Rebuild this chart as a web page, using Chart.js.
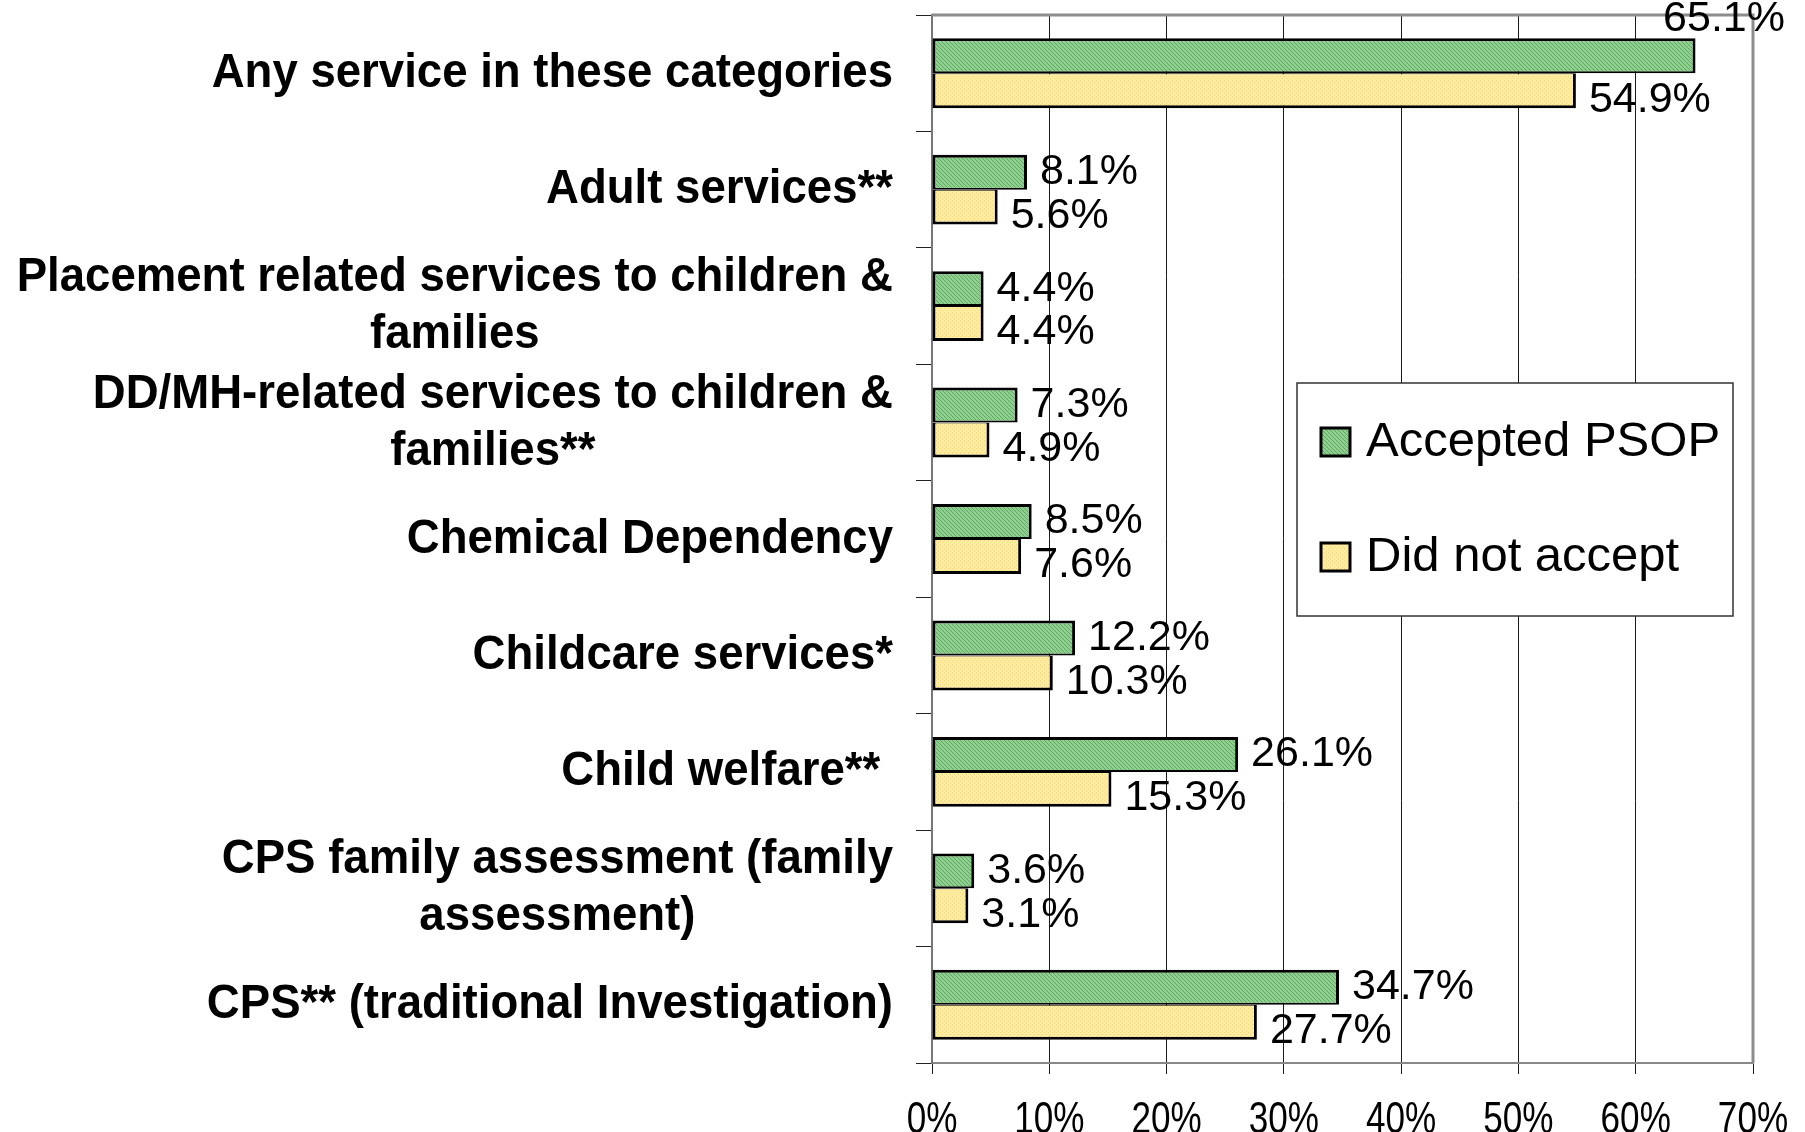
<!DOCTYPE html>
<html>
<head>
<meta charset="utf-8">
<title>Services received by PSOP acceptance</title>
<script src="https://cdn.jsdelivr.net/npm/chart.js@4.4.1/dist/chart.umd.min.js"></script>
<style>
  html, body { margin: 0; padding: 0; background: #fff; }
  #chart { display: block; }
</style>
</head>
<body>
<canvas id="chart" width="1805" height="1132"></canvas>
<script>
// Categories, top to bottom
const categories = [
    'Any service in these categories',
    'Adult services**',
    ['Placement related services to children &', 'families'],
    ['DD/MH-related services to children &', 'families**'],
    'Chemical Dependency',
    'Childcare services*',
    'Child welfare** ',
    ['CPS family assessment (family', 'assessment)'],
    'CPS** (traditional Investigation)'
];

// Percent of families receiving each service
const acceptedPsop = [65.1, 8.1, 4.4, 7.3, 8.5, 12.2, 26.1, 3.6, 34.7];
const didNotAccept = [54.9, 5.6, 4.4, 4.9, 7.6, 10.3, 15.3, 3.1, 27.7];
const seriesNames = ['Accepted PSOP', 'Did not accept'];

// Value axis ticks (percent)
const xTicks = [0, 10, 20, 30, 40, 50, 60, 70];

const FONT = '"Liberation Sans", Arial, sans-serif';

const canvas = document.getElementById('chart');
const ctx = canvas.getContext('2d');

// Small repeating fills: green hatch and yellow dots
function makePattern(base, mark, pixels) {
    const c = document.createElement('canvas');
    c.width = 4;
    c.height = 4;
    const g = c.getContext('2d');
    g.fillStyle = base;
    g.fillRect(0, 0, 4, 4);
    g.fillStyle = mark;
    pixels.forEach(p => g.fillRect(p[0], p[1], 1, 1));
    return ctx.createPattern(c, 'repeat');
}

const greenFill = makePattern('#8fcf8f', '#5ea861', [[0, 0], [1, 1], [2, 2], [3, 3]]);
const yellowFill = makePattern('#ffeca0', '#f2d77c', [[0, 0], [2, 2]]);

// Draw text squeezed horizontally
function squeezedText(c, text, x, y, sx) {
    c.save();
    c.translate(x, y);
    c.scale(sx, 1);
    c.fillText(text, 0, 0);
    c.restore();
}

// Grey frame on top and right of the plot
const plotFrame = {
    id: 'plotFrame',
    beforeDatasetsDraw(chart) {
        const a = chart.chartArea;
        const c = chart.ctx;
        c.save();
        c.strokeStyle = '#8c8c8c';
        c.lineWidth = 3;
        c.beginPath();
        c.moveTo(a.left, a.top);
        c.lineTo(a.right, a.top);
        c.lineTo(a.right, a.bottom);
        c.stroke();
        c.restore();
    }
};

// Category names: right-aligned blocks, lines centred inside the block
const categoryLabels = {
    id: 'categoryLabels',
    afterDraw(chart) {
        const c = chart.ctx;
        const yScale = chart.scales.y;
        const sx = 0.93;
        const lineHeight = 57;
        const right = chart.chartArea.left - 39;
        c.save();
        c.font = 'bold 49px ' + FONT;
        c.fillStyle = '#000';
        c.textAlign = 'center';
        c.textBaseline = 'middle';
        chart.data.labels.forEach((label, i) => {
            const lines = Array.isArray(label) ? label : [label];
            const widest = Math.max(...lines.map(l => c.measureText(l).width)) * sx;
            const cx = right - widest / 2;
            const cy = yScale.getPixelForValue(i);
            lines.forEach((line, j) => {
                const y = cy + (j - (lines.length - 1) / 2) * lineHeight;
                squeezedText(c, line, cx, y, sx);
            });
        });
        c.restore();
    }
};

// Percent tick labels under the value axis
const valueTickLabels = {
    id: 'valueTickLabels',
    afterDraw(chart) {
        const c = chart.ctx;
        const xScale = chart.scales.x;
        c.save();
        c.font = '45px ' + FONT;
        c.fillStyle = '#000';
        c.textAlign = 'center';
        c.textBaseline = 'alphabetic';
        xScale.ticks.forEach(t => {
            squeezedText(c, t.value + '%', xScale.getPixelForValue(t.value), 1133, 0.78);
        });
        c.restore();
    }
};

// Value labels at the end of each bar
const barValues = {
    id: 'barValues',
    afterDraw(chart) {
        const c = chart.ctx;
        c.save();
        c.font = '43px ' + FONT;
        c.fillStyle = '#000';
        c.textAlign = 'left';
        c.textBaseline = 'middle';
        chart.data.datasets.forEach((ds, di) => {
            const meta = chart.getDatasetMeta(di);
            meta.data.forEach((bar, i) => {
                const text = ds.data[i].toFixed(1) + '%';
                const w = c.measureText(text).width;
                let x = bar.x + 13;
                let y = bar.y + (di === 0 ? 0 : 9);
                if (x + w > chart.width - 20) {
                    // no room on the right: lift it above the bar
                    x = chart.width - 20 - w;
                    y = bar.y - bar.height / 2 - 19;
                }
                c.fillText(text, x, y);
            });
        });
        c.restore();
    }
};

// Boxed legend inside the plot
const boxLegend = {
    id: 'boxLegend',
    afterDraw(chart) {
        const c = chart.ctx;
        c.save();
        c.fillStyle = '#fff';
        c.fillRect(1297, 383, 436, 233);
        c.strokeStyle = '#333';
        c.lineWidth = 1.5;
        c.strokeRect(1297, 383, 436, 233);
        c.font = '49px ' + FONT;
        c.textAlign = 'left';
        c.textBaseline = 'middle';
        chart.data.datasets.forEach((ds, i) => {
            const cy = 442 + i * 115;
            c.fillStyle = ds.backgroundColor;
            c.fillRect(1321, cy - 14, 29, 28);
            c.strokeStyle = '#000';
            c.lineWidth = 3;
            c.strokeRect(1321, cy - 14, 29, 28);
            c.fillStyle = '#000';
            c.fillText(ds.label, 1366, cy);
        });
        c.restore();
    }
};

const chart = new Chart(ctx, {
    type: 'bar',
    data: {
        labels: categories,
        datasets: [
            {
                label: seriesNames[0],
                data: acceptedPsop,
                backgroundColor: greenFill,
                borderColor: '#000',
                borderWidth: { top: 3, right: 3, bottom: 2, left: 3 },
                borderSkipped: false
            },
            {
                label: seriesNames[1],
                data: didNotAccept,
                backgroundColor: yellowFill,
                borderColor: '#000',
                borderWidth: { top: 1, right: 3, bottom: 3, left: 3 },
                borderSkipped: false
            }
        ]
    },
    options: {
        indexAxis: 'y',
        responsive: false,
        animation: false,
        layout: { padding: { top: 15, right: 52, left: 0, bottom: 0 } },
        datasets: {
            bar: { categoryPercentage: 0.6, barPercentage: 1 }
        },
        plugins: {
            legend: { display: false },
            tooltip: { enabled: false }
        },
        scales: {
            x: {
                type: 'linear',
                min: xTicks[0],
                max: xTicks[xTicks.length - 1],
                ticks: { display: false, stepSize: xTicks[1] - xTicks[0] },
                grid: { color: '#1a1a1a', lineWidth: 1, drawTicks: true, tickLength: 11 },
                border: { color: '#888', width: 2 },
                afterFit(scale) { scale.height = 69; }
            },
            y: {
                ticks: { display: false },
                grid: {
                    offset: true,
                    drawOnChartArea: false,
                    drawTicks: true,
                    tickLength: 16,
                    color: '#222',
                    lineWidth: 1
                },
                border: { color: '#777', width: 2 },
                afterFit(scale) { scale.width = 932; }
            }
        }
    },
    plugins: [plotFrame, categoryLabels, valueTickLabels, barValues, boxLegend]
});
</script>
</body>
</html>
